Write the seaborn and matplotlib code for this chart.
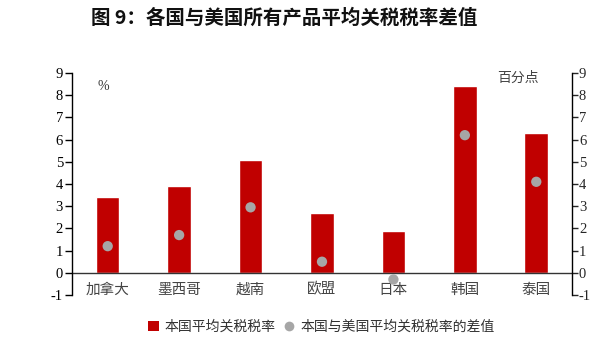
import matplotlib
matplotlib.use("Agg")
import matplotlib.pyplot as plt
import seaborn as sns
import pandas as pd
from matplotlib.lines import Line2D
from matplotlib.patches import Patch

categories = ["加拿大", "墨西哥", "越南", "欧盟", "日本", "韩国", "泰国"]
avg_tariff = [3.4, 3.9, 5.1, 2.7, 1.9, 8.4, 6.3]
diff_vs_us = [1.2, 1.7, 2.95, 0.5, -0.3, 6.2, 4.1]
yticks = list(range(-1, 10))

sns.set_style("white")
plt.rcParams['font.family'] = ['Noto Sans CJK SC', 'DejaVu Sans']

df = pd.DataFrame({"cat": categories, "tariff": avg_tariff, "diff": diff_vs_us})

fig = plt.figure(figsize=(5.92, 3.51), dpi=100)
ax = fig.add_axes([0.1216, 0.1595, 0.8446, 0.6325])

sns.barplot(data=df, x="cat", y="tariff", color="#C00000", saturation=1,
            width=0.33, ax=ax, order=categories)
sns.scatterplot(data=df, x="cat", y="diff", color="#A6A6A6", s=55,
                edgecolor="none", ax=ax, zorder=3)

ax.set_xlim(-0.5, 6.5)
ax.set_ylim(-1, 9)
ax.axhline(0, color="#333333", lw=1.0, zorder=2)
ax.set_xlabel("")
ax.set_ylabel("")
ax.set_yticks(yticks)
ax.set_yticklabels([str(t) for t in yticks], family="Liberation Serif", fontsize=10.5)
ax.tick_params(axis="x", length=0, pad=-9, labelsize=10.5, colors="#444444")
ax.tick_params(axis="y", length=5, width=1, direction="out", left=True, pad=1.5, colors="black")
for s in ["top", "bottom", "right"]:
    ax.spines[s].set_visible(False)
ax.spines["left"].set_color("black")
ax.spines["left"].set_linewidth(1)

ax2 = ax.twinx()
ax2.set_ylim(-1, 9)
ax2.set_yticks(yticks)
ax2.set_yticklabels([str(t) for t in yticks], family="Liberation Serif", fontsize=10.5)
ax2.tick_params(axis="y", length=4, width=1, direction="out", right=True, pad=1)
for s in ["top", "bottom", "left"]:
    ax2.spines[s].set_visible(False)
ax2.spines["right"].set_color("black")
ax2.spines["right"].set_linewidth(1)

fig.text(97 / 592, 1 - 86 / 351, "%", fontsize=10, family="Liberation Serif",
         ha="left", va="center", color="#333333")
fig.text(518 / 592, 1 - 78 / 351, "百分点", fontsize=10, ha="center", va="center",
         color="#444444")

fig.text(284 / 592, 1 - 18 / 351, "图 9：各国与美国所有产品平均关税税率差值", fontsize=14,
         fontweight="bold", ha="center", va="center", color="#111111")

handles = [Patch(facecolor="#C00000", edgecolor="none"),
           Line2D([], [], marker="o", linestyle="none", markerfacecolor="#A6A6A6",
                  markeredgecolor="none", markersize=7)]
fig.legend(handles, ["本国平均关税税率", "本国与美国平均关税税率的差值"],
           loc="center", bbox_to_anchor=(321 / 592, 1 - 327 / 351), ncol=2,
           frameon=False, fontsize=10, handlelength=0.8, handletextpad=0.4,
           columnspacing=0.6, labelcolor="#333333")

fig.savefig("out.png", dpi=100)
